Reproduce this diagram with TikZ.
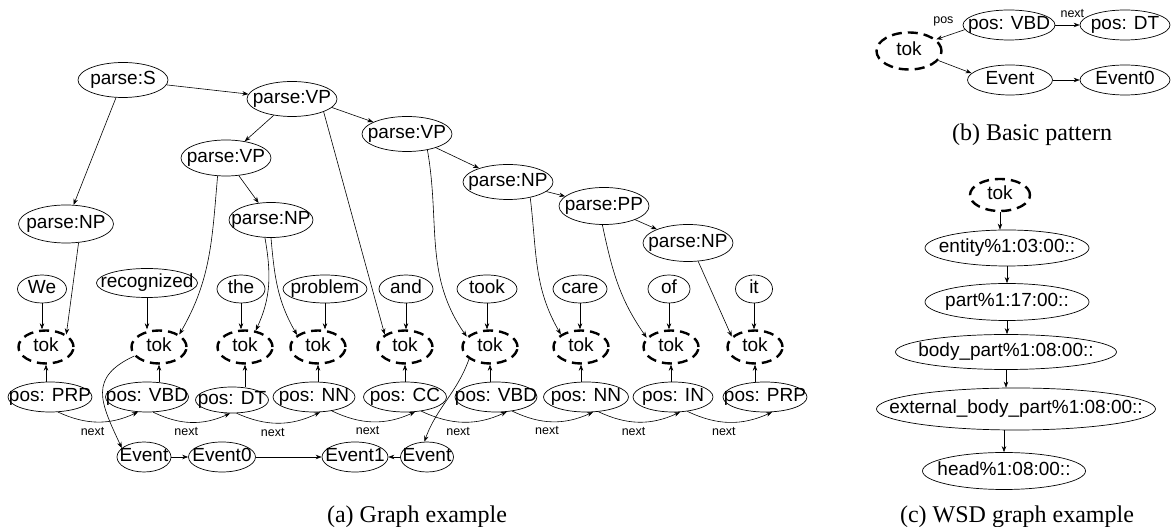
\documentclass[tikz,border=0pt]{standalone}
\usepackage{fontspec}
\setmainfont{Liberation Serif}
\setsansfont{Liberation Sans}
\usepackage{tikz}
\usetikzlibrary{shapes.geometric,arrows.meta,positioning}
\newsavebox{\nodetextbox}

\begin{document}
\begin{tikzpicture}[
    x=1pt, y=1pt,
    base/.style={ellipse, draw, line width=0.7pt, inner sep=0pt, text height=13.5pt, text depth=4pt,
        font=\sffamily\fontsize{19}{21}\selectfont,
        execute at begin node={\setbox\nodetextbox=\hbox\bgroup},
        execute at end node={\egroup\makebox[0pt]{\usebox\nodetextbox}}},
    parse/.style={base, minimum width=90pt, minimum height=35pt},
    word/.style={base, minimum height=28pt},
    tok/.style={base, minimum width=55pt, minimum height=33pt, line width=2.4pt, dash pattern=on 10pt off 6pt},
    tag/.style={base, minimum width=84pt, minimum height=30pt},
    event/.style={base, minimum height=30pt},
    sense/.style={base, minimum height=36pt},
    arrow/.style={-{Stealth[length=6pt,width=4.5pt]}, line width=0.6pt},
    edge label/.style={font=\sffamily\fontsize{12.5}{14}\selectfont, inner sep=1pt},
    caption/.style={font=\fontsize{24}{28}\selectfont, anchor=base}
]
    \useasboundingbox (0,0) rectangle (1173,527);

    % (a) parse tree
    \node[parse] (pS) at (123,447) {parse:S};
    \node[parse] (pVP1) at (292,428) {parse:VP};
    \node[parse, minimum height=36pt] (pVP2) at (226,369) {parse:VP};
    \node[parse] (pVP3) at (407,393) {parse:VP};
    \node[parse, minimum width=95pt, minimum height=38pt] (pNP1) at (66,303) {parse:NP};
    \node[parse, minimum width=84pt] (pNP2) at (271,307) {parse:NP};
    \node[parse] (pNP3) at (508,345) {parse:NP};
    \node[parse, minimum height=37pt] (pPP) at (604,321) {parse:PP};
    \node[parse, minimum height=37pt] (pNP4) at (688,284) {parse:NP};

    % (a) words
    \node[word, minimum width=49pt] (wWe) at (42,238) {We};
    \node[word, minimum width=101pt, minimum height=29pt] (wRecognized) at (147,244) {recognized};
    \node[word, minimum width=48pt] (wThe) at (241,238) {the};
    \node[word, minimum width=84pt] (wProblem) at (325,238) {problem};
    \node[word, minimum width=54pt] (wAnd) at (406,238) {and};
    \node[word, minimum width=60pt] (wTook) at (487,238) {took};
    \node[word, minimum width=54pt] (wCare) at (580,238) {care};
    \node[word, minimum width=42pt] (wOf) at (669,238) {of};
    \node[word, minimum width=37pt] (wIt) at (754,238) {it};

    % (a) tokens
    \node[tok] (t1) at (46,180) {tok};
    \node[tok] (t2) at (159,180) {tok};
    \node[tok] (t3) at (245,180) {tok};
    \node[tok] (t4) at (318,180) {tok};
    \node[tok] (t5) at (405,180) {tok};
    \node[tok] (t6) at (490,180) {tok};
    \node[tok] (t7) at (581,180) {tok};
    \node[tok] (t8) at (671,180) {tok};
    \node[tok] (t9) at (755,180) {tok};

    % (a) part of speech
    \node[tag] (pPRP) at (50,130) {pos: PRP};
    \node[tag, minimum width=83pt] (pVBD) at (147,130) {pos: VBD};
    \node[tag, minimum width=73pt, minimum height=26pt] (pDT) at (232,127) {pos: DT};
    \node[tag, minimum width=82pt] (pNN) at (314,130) {pos: NN};
    \node[tag, minimum width=83pt] (pCC) at (405,130) {pos: CC};
    \node[tag, minimum width=82pt] (pVBDb) at (496,130) {pos: VBD};
    \node[tag, minimum width=85pt] (pNNb) at (586,130) {pos: NN};
    \node[tag, minimum width=80pt] (pIN) at (673,130) {pos: IN};
    \node[tag] (pPRPb) at (765,130) {pos: PRP};

    % (a) events
    \node[event, minimum width=54pt] (ev) at (144,70) {Event};
    \node[event, minimum width=67pt] (evZero) at (222,70) {Event0};
    \node[event, minimum width=66pt] (evOne) at (355,70) {Event1};
    \node[event, minimum width=53pt] (evTwo) at (427,70) {Event};

    \draw[arrow] (pS) -- (pVP1);
    \draw[arrow] (pS) -- (pNP1);
    \draw[arrow] (pVP1) -- (pVP2);
    \draw[arrow] (pVP1.-12) -- (pVP3);
    \draw[arrow] (pVP2) -- (pNP2);
    \draw[arrow] (pVP3) -- (pNP3);
    \draw[arrow] (pNP3) -- (pPP);
    \draw[arrow] (pPP) -- (pNP4);

    \draw[arrow] (pNP1.-56) -- (t1.north east);
    \draw[arrow] (pVP2.-115) to[out=-95, in=60] (t2.north east);
    \draw[arrow] (pVP1.-22) -- (t5.north west);
    \draw[arrow] (pNP2.-109) to[out=-80, in=65] (t3.57);
    \draw[arrow] (pNP2.south) to[out=-85, in=120] (t4.150);
    \draw[arrow] (pVP3.-38) to[out=-80, in=125] (t6.156);
    \draw[arrow] (pNP3.-35) to[out=-83, in=120] (t7.148);
    \draw[arrow] (pPP.-95) to[out=-78, in=125] (t8.159);
    \draw[arrow] (pNP4.-61) -- (t9.156);

    \draw[arrow] (wWe) -- (wWe |- t1.north);
    \draw[arrow] (wRecognized) -- (wRecognized |- t2.north);
    \draw[arrow] (wThe) -- (wThe |- t3.north);
    \draw[arrow] (wProblem) -- (wProblem |- t4.north);
    \draw[arrow] (wAnd) -- (wAnd |- t5.north);
    \draw[arrow] (wTook) -- (wTook |- t6.north);
    \draw[arrow] (wCare) -- (wCare |- t7.north);
    \draw[arrow] (wOf) -- (wOf |- t8.north);
    \draw[arrow] (wIt) -- (wIt |- t9.north);

    \draw[arrow] (t1 |- pPRP.north) -- (t1.south);
    \draw[arrow] (t2 |- pVBD.north) -- (t2.south);
    \draw[arrow] (t3 |- pDT.north) -- (t3.south);
    \draw[arrow] (t4 |- pNN.north) -- (t4.south);
    \draw[arrow] (t5 |- pCC.north) -- (t5.south);
    \draw[arrow] (t6 |- pVBDb.north) -- (t6.south);
    \draw[arrow] (t7 |- pNNb.north) -- (t7.south);
    \draw[arrow] (t8 |- pIN.north) -- (t8.south);
    \draw[arrow] (t9 |- pPRPb.north) -- (t9.south);

    \draw[arrow] (pPRP.-62) to[bend right=25] node[edge label, below=4pt, pos=0.43] {next} (pVBD.-121);
    \draw[arrow] (pVBD.-68) to[bend right=25] node[edge label, below=4pt, pos=0.43] {next} (pDT.-98);
    \draw[arrow] (pDT.-71) to[bend right=25] node[edge label, below=4pt, pos=0.43] {next} (pNN.-68);
    \draw[arrow] (pNN.-38) to[bend right=25] node[edge label, below=4pt, pos=0.43] {next} (pCC.-56);
    \draw[arrow] (pCC.-41) to[bend right=25] node[edge label, below=4pt, pos=0.43] {next} (pVBDb.-54);
    \draw[arrow] (pVBDb.-41) to[bend right=25] node[edge label, below=4pt, pos=0.43] {next} (pNNb.-65);
    \draw[arrow] (pNNb.-50) to[bend right=25] node[edge label, below=4pt, pos=0.43] {next} (pIN.-65);
    \draw[arrow] (pIN.-45) to[bend right=25] node[edge label, below=4pt, pos=0.43] {next} (pPRPb.-65);

    \draw[arrow] (t2.200) to[out=205, in=115, looseness=1.4] (ev.158);
    \draw[arrow] (t6.210) to[out=250, in=70] (evTwo.100);
    \draw[arrow] (ev) -- (evZero);
    \draw[arrow] (evZero) -- (evOne);
    \draw[arrow] (evTwo) -- (evOne);

    \node[caption] (capA) at (417,4) {(a) Graph example};

    % (b) basic pattern
    \node[tok, minimum width=65pt, minimum height=37pt] (bTok) at (909,476) {tok};
    \node[tag, minimum width=92pt] (bVBD) at (1009,502) {pos: VBD};
    \node[tag, minimum width=90pt] (bDT) at (1125,502) {pos: DT};
    \node[event, minimum width=85pt] (bEvent) at (1010,447) {Event};
    \node[event, minimum width=90pt] (bEventZero) at (1125,447) {Event0};

    \draw[arrow] (bVBD.186) -- node[edge label, above=10pt, pos=0.75] {pos} (bTok.23);
    \draw[arrow] (bVBD) -- node[edge label, above=6pt, pos=0.7] {next} (bDT);
    \draw[arrow] (bTok.-18) -- (bEvent.170);
    \draw[arrow] (bEvent) -- (bEventZero);

    \node[caption] (capB) at (1032,386) {(b) Basic pattern};

    % (c) WSD graph
    \node[tok, minimum width=60pt, minimum height=32pt] (cTok) at (1000,332) {tok};
    \node[sense, minimum width=164pt] (cEntity) at (1007,279) {entity\%1:03:00::};
    \node[sense, minimum width=164pt, minimum height=37pt] (cPart) at (1007,225) {part\%1:17:00::};
    \node[sense, minimum width=221pt, minimum height=35pt] (cBody) at (1006,175) {body\_part\%1:08:00::};
    \node[sense, minimum width=279pt, minimum height=42pt] (cExternal) at (1016,118) {external\_body\_part\%1:08:00::};
    \node[sense, minimum width=163pt, minimum height=37pt] (cHead) at (1004,56) {head\%1:08:00::};

    \draw[arrow] (cTok) -- (cTok |- cEntity.north);
    \draw[arrow] (cEntity) -- (cEntity |- cPart.north);
    \draw[arrow] (cPart) -- (cPart |- cBody.north);
    \draw[arrow] (cBody) -- (cBody |- cExternal.north);
    \draw[arrow] (cHead |- cExternal.south) -- (cHead);

    \node[caption] (capC) at (1017,4) {(c) WSD graph example};
\end{tikzpicture}
\end{document}
